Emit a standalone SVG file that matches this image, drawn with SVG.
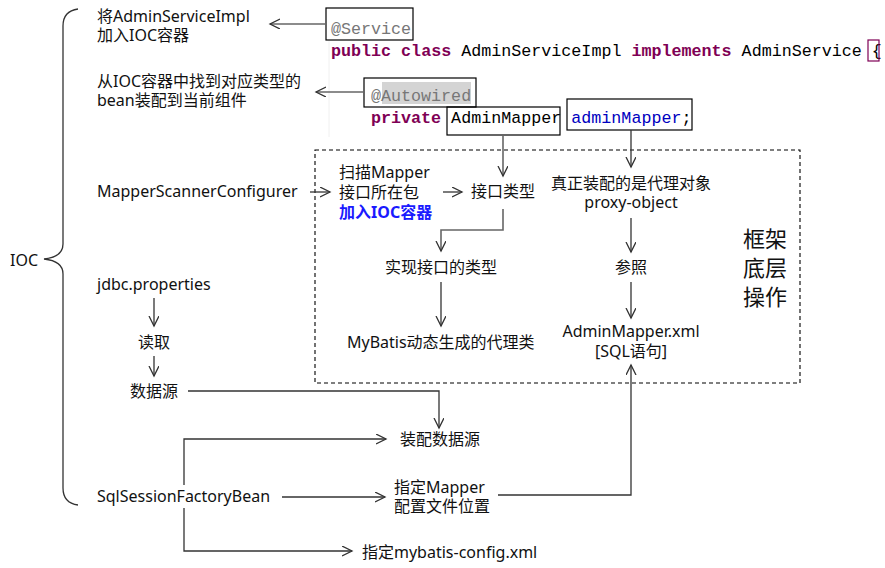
<svg xmlns="http://www.w3.org/2000/svg" width="885" height="568" viewBox="0 0 885 568">
<style>
.t{font-family:"Noto Sans","Noto Sans CJK SC",sans-serif;font-size:16px;fill:#111}
.big{font-family:"Noto Sans CJK SC","Noto Sans",sans-serif;font-size:22px;fill:#111}
.blue{fill:#1a1aff;font-weight:bold}
.code{font-family:"Liberation Mono",monospace;font-size:16.7px;fill:#000}
.kw{fill:#7f0055;font-weight:bold}
.ln{fill:none;stroke:#333;stroke-width:1.3}
.gl{fill:none;stroke:#666;stroke-width:1.6}
.box{fill:none;stroke:#000;stroke-width:1.2}
</style>
<defs>
<marker id="a" markerUnits="userSpaceOnUse" markerWidth="12" markerHeight="12" refX="10" refY="5" orient="auto">
<path d="M0,0 L10,5 L0,10" fill="none" stroke="#333" stroke-width="1.3"/>
</marker>
</defs>
<rect width="885" height="568" fill="#fff"/>
<line x1="329" y1="40" x2="329" y2="137" stroke="#f0f0f0" stroke-width="1"/>

<g id="brace">
<path class="ln" d="M78,9 Q63,11 63,26 L63,244 Q63,257 44,259 Q63,261 63,274 L63,488 Q63,503 78,505"/>
<text class="t" x="10" y="266">IOC</text>
</g>

<g id="code">
<rect x="326" y="8" width="87" height="32" class="box"/>
<text class="code" x="331" y="34" style="fill:#777">@Service</text>
<text class="code" x="331" y="56"><tspan class="kw">public</tspan> <tspan class="kw">class</tspan> AdminServiceImpl <tspan class="kw">implements</tspan> AdminService {</text>
<rect x="868" y="40" width="11" height="21" fill="none" stroke="#7f0055" stroke-width="1.2"/>
<rect x="382" y="82" width="89" height="22" fill="#d4d4d4"/>
<rect x="364" y="78" width="112" height="29" class="box"/>
<text class="code" x="371" y="101" style="fill:#777">@Autowired</text>
<text class="code" x="371" y="123"><tspan class="kw">private</tspan> AdminMapper <tspan fill="#0000c0">adminMapper</tspan>;</text>
<rect x="447" y="107" width="113" height="28" class="box"/>
<rect x="567" y="99" width="125" height="31" class="box"/>
</g>

<g id="labels-left">
<text class="t" x="97" y="22">将AdminServiceImpl</text>
<text class="t" x="97" y="41">加入IOC容器</text>
<text class="t" x="97" y="87">从IOC容器中找到对应类型的</text>
<text class="t" x="97" y="106">bean装配到当前组件</text>
<text class="t" x="97" y="197">MapperScannerConfigurer</text>
<text class="t" x="97" y="290">jdbc.properties</text>
<text class="t" x="138" y="348">读取</text>
<text class="t" x="130" y="397">数据源</text>
<text class="t" x="97" y="502">SqlSessionFactoryBean</text>
</g>

<g id="framework">
<rect x="315" y="150" width="485" height="233" fill="none" stroke="#000" stroke-width="1.1" stroke-dasharray="4,3"/>
<text class="t" x="339" y="178">扫描Mapper</text>
<text class="t" x="339" y="198">接口所在包</text>
<text class="t blue" x="339" y="218">加入IOC容器</text>
<text class="t" x="471" y="197">接口类型</text>
<text class="t" x="385" y="273">实现接口的类型</text>
<text class="t" x="347" y="348">MyBatis动态生成的代理类</text>
<text class="t" x="631" y="189" text-anchor="middle">真正装配的是代理对象</text>
<text class="t" x="631" y="208" text-anchor="middle">proxy-object</text>
<text class="t" x="631" y="273" text-anchor="middle">参照</text>
<text class="t" x="631" y="337" text-anchor="middle">AdminMapper.xml</text>
<text class="t" x="631" y="357" text-anchor="middle">[SQL语句]</text>
<text class="big" x="743" y="247">框架</text>
<text class="big" x="743" y="276">底层</text>
<text class="big" x="743" y="305">操作</text>
</g>

<g id="labels-bottom">
<text class="t" x="400" y="445">装配数据源</text>
<text class="t" x="394" y="493">指定Mapper</text>
<text class="t" x="394" y="512">配置文件位置</text>
<text class="t" x="362" y="558">指定mybatis-config.xml</text>
</g>

<g id="connectors">
<line class="gl" x1="326" y1="24" x2="270" y2="24" marker-end="url(#a)"/>
<line class="gl" x1="364" y1="92" x2="316" y2="92" marker-end="url(#a)"/>
<line class="gl" x1="503" y1="135" x2="503" y2="176" marker-end="url(#a)"/>
<line class="ln" x1="631" y1="130" x2="631" y2="167" marker-end="url(#a)"/>
<line class="ln" x1="310" y1="192" x2="330" y2="192" marker-end="url(#a)"/>
<line class="ln" x1="443" y1="192" x2="462" y2="192" marker-end="url(#a)"/>
<path class="gl" d="M503,209 L503,230 L441,230 L441,251" marker-end="url(#a)"/>
<line class="ln" x1="441" y1="282" x2="441" y2="326" marker-end="url(#a)"/>
<line class="ln" x1="631" y1="218" x2="631" y2="252" marker-end="url(#a)"/>
<line class="ln" x1="631" y1="282" x2="631" y2="318" marker-end="url(#a)"/>
<line class="ln" x1="154" y1="298" x2="154" y2="326" marker-end="url(#a)"/>
<line class="ln" x1="154" y1="356" x2="154" y2="376" marker-end="url(#a)"/>
<path class="ln" d="M188,391 L439,391 L439,428" marker-end="url(#a)"/>
<path class="ln" d="M184,485 L184,439 L386,439" marker-end="url(#a)"/>
<line class="ln" x1="282" y1="497" x2="385" y2="497" marker-end="url(#a)"/>
<path class="ln" d="M498,495 L631,495 L631,365" marker-end="url(#a)"/>
<path class="ln" d="M184,508 L184,551 L352,551" marker-end="url(#a)"/>
</g>
</svg>
